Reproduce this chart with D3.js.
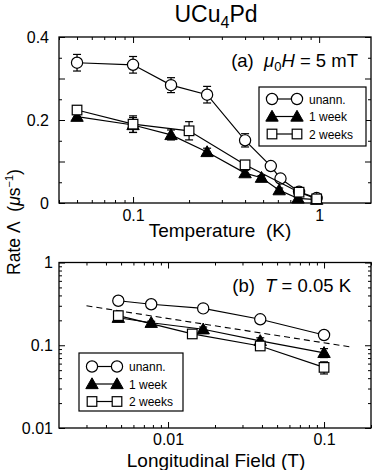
<!DOCTYPE html>
<html>
<head>
<meta charset="utf-8">
<script src="https://cdn.jsdelivr.net/npm/d3@7"></script>
<style>
  body { margin: 0; background: #fff; }
  svg { font-family: "Liberation Sans", Arial, sans-serif; }
  text { white-space: pre; }
</style>
</head>
<body>
<div class="canvas"></div>
<script>
// panel (a): rate vs temperature at 5 mT
const tempUnann = [0.05, 0.1, 0.16, 0.25, 0.4, 0.55, 0.62, 0.78, 0.97];
const rateUnann = [0.338, 0.333, 0.284, 0.261, 0.151, 0.089, 0.059, 0.027, 0.012];
const errUnann  = [0.02, 0.02, 0.018, 0.02, 0.016, 0.008, 0.006, 0.005, 0.004];

const temp1wk = [0.05, 0.1, 0.16, 0.25, 0.4, 0.49, 0.61, 0.77, 0.97];
const rate1wk = [0.208, 0.188, 0.164, 0.123, 0.072, 0.061, 0.031, 0.011, 0.008];
const err1wk  = [0.006, 0.018, 0.012, 0.009, 0.007, 0.005, 0.005, 0.004, 0.004];

const temp2wk = [0.05, 0.1, 0.2, 0.4, 0.78, 0.97];
const rate2wk = [0.224, 0.19, 0.174, 0.092, 0.026, 0.01];
const err2wk  = [0.01, 0.02, 0.022, 0.01, 0.006, 0.004];

// panel (b): rate vs longitudinal field at 0.05 K
const fieldUnann = [0.0048, 0.0078, 0.0168, 0.039, 0.1];
const lfUnann    = [0.345, 0.313, 0.279, 0.206, 0.133];
const lfErrUnann = [0.01, 0.008, 0.008, 0.008, 0.008];

const field1wk = [0.0048, 0.0078, 0.0168, 0.039, 0.1];
const lf1wk    = [0.215, 0.187, 0.156, 0.113, 0.081];
const lfErr1wk = [0.008, 0.008, 0.01, 0.01, 0.01];

const field2wk = [0.0048, 0.0143, 0.039, 0.1];
const lf2wk    = [0.228, 0.137, 0.098, 0.054];
const lfErr2wk = [0.01, 0.006, 0.006, 0.009];

// dashed power-law guide
const fitField = [0.003, 0.15];
const fitRate  = [0.30, 0.095];

const seriesNames = ['unann.', '1 week', '2 weeks'];

// ticks
const tempMajor = [0.1, 1];
const tempMinor = [0.04, 0.05, 0.06, 0.07, 0.08, 0.09, 0.2, 0.3, 0.4, 0.5, 0.6, 0.7, 0.8, 0.9];
const rateMajor = [0, 0.1, 0.2, 0.3, 0.4];
const rateMinor = [0.05, 0.15, 0.25, 0.35];
const rateLabels = [0, 0.2, 0.4];
const fieldMajor = [0.01, 0.1];
const fieldMinor = [0.003, 0.004, 0.005, 0.006, 0.007, 0.008, 0.009, 0.02, 0.03, 0.04, 0.05, 0.06, 0.07, 0.08, 0.09, 0.2];
const lfMajor = [0.01, 0.1, 1];
const lfMinor = [0.02, 0.03, 0.04, 0.05, 0.06, 0.07, 0.08, 0.09, 0.2, 0.3, 0.4, 0.5, 0.6, 0.7, 0.8, 0.9];

const svg = d3.select('.canvas')
  .append('svg')
    .attr('width', 374)
    .attr('height', 470);

const left = 59, right = 371;
const topA = 37, bottomA = 203;
const topB = 262.5, bottomB = 428;

// scales
const xA = d3.scaleLog().domain([0.04, 1.9]).range([left, right]);
const yA = d3.scaleLinear().domain([0, 0.4]).range([bottomA, topA]);
const xB = d3.scaleLog().domain([0.002, 0.2]).range([left, right]);
const yB = d3.scaleLog().domain([0.01, 1]).range([bottomB, topB]);

const fmt = d => String(d);

function drawFrame(x, y, top, bottom, xMajor, xMinor, yMajor, yMinor, yLabelVals, xPad, yPad) {
  const g = svg.append('g');
  const w = right - left, h = bottom - top;

  // bottom axis
  g.append('g').attr('transform', `translate(0, ${bottom})`)
    .call(d3.axisBottom(x).tickValues(xMinor).tickSizeInner(-3).tickSizeOuter(0).tickFormat(''));
  g.append('g').attr('transform', `translate(0, ${bottom})`)
    .call(d3.axisBottom(x).tickValues(xMajor).tickSizeInner(-6).tickSizeOuter(0).tickPadding(xPad).tickFormat(fmt))
    .selectAll('text').attr('font-size', 16);
  // top mirror
  g.append('g').attr('transform', `translate(0, ${top})`)
    .call(d3.axisTop(x).tickValues(xMinor).tickSizeInner(-3).tickSizeOuter(0).tickFormat(''));
  g.append('g').attr('transform', `translate(0, ${top})`)
    .call(d3.axisTop(x).tickValues(xMajor).tickSizeInner(-6).tickSizeOuter(0).tickFormat(''));

  // left axis
  g.append('g').attr('transform', `translate(${left}, 0)`)
    .call(d3.axisLeft(y).tickValues(yMinor).tickSizeInner(-3).tickSizeOuter(0).tickFormat(''));
  g.append('g').attr('transform', `translate(${left}, 0)`)
    .call(d3.axisLeft(y).tickValues(yMajor).tickSizeInner(-6).tickSizeOuter(0).tickPadding(yPad)
      .tickFormat(d => yLabelVals.includes(d) ? fmt(d) : ''))
    .selectAll('text').attr('font-size', 16);
  // right mirror
  g.append('g').attr('transform', `translate(${right}, 0)`)
    .call(d3.axisRight(y).tickValues(yMinor).tickSizeInner(-3).tickSizeOuter(0).tickFormat(''));
  g.append('g').attr('transform', `translate(${right}, 0)`)
    .call(d3.axisRight(y).tickValues(yMajor).tickSizeInner(-6).tickSizeOuter(0).tickFormat(''));

  g.selectAll('.domain').remove();
  g.selectAll('line').attr('stroke', '#000').attr('stroke-width', 1);
  g.selectAll('text').attr('fill', '#000').attr('font-family', '"Liberation Sans", Arial, sans-serif');

  g.append('rect')
    .attr('x', left).attr('y', top)
    .attr('width', w).attr('height', h)
    .attr('fill', 'none').attr('stroke', '#000').attr('stroke-width', 1.3);
}

drawFrame(xA, yA, topA, bottomA, tempMajor, tempMinor, rateMajor, rateMinor, rateLabels, 7, 10);
drawFrame(xB, yB, topB, bottomB, fieldMajor, fieldMinor, lfMajor, lfMinor, lfMajor, 6, 6);

// marker drawing
function marker(g, kind, cx, cy) {
  if (kind === 'circle') {
    g.append('circle').attr('cx', cx).attr('cy', cy).attr('r', 5.6)
      .attr('fill', '#fff').attr('stroke', '#000').attr('stroke-width', 1.2);
  } else if (kind === 'triangle') {
    const s = 6.2;
    g.append('path')
      .attr('d', `M${cx},${cy - s} L${cx + s},${cy + s * 0.75} L${cx - s},${cy + s * 0.75} Z`)
      .attr('fill', '#000').attr('stroke', '#000').attr('stroke-width', 1);
  } else {
    const s = 4.8;
    g.append('rect').attr('x', cx - s).attr('y', cy - s).attr('width', 2 * s).attr('height', 2 * s)
      .attr('fill', '#fff').attr('stroke', '#000').attr('stroke-width', 1.2);
  }
}

function drawSeries(x, y, xs, ys, errs, kind) {
  const data = xs.map((v, i) => ({x: v, y: ys[i], e: errs[i]}));
  const g = svg.append('g');
  g.append('path')
    .datum(data)
    .attr('fill', 'none')
    .attr('stroke', '#000')
    .attr('stroke-width', 1.2)
    .attr('d', d3.line().x(d => x(d.x)).y(d => y(d.y)));
  data.forEach(d => {
    const cx = x(d.x);
    const y1 = y(d.y + d.e), y2 = y(Math.max(d.y - d.e, 1e-4));
    g.append('line').attr('x1', cx).attr('x2', cx).attr('y1', y1).attr('y2', y2)
      .attr('stroke', '#000').attr('stroke-width', 1.2);
    [y1, y2].forEach(yy => {
      g.append('line').attr('x1', cx - 4).attr('x2', cx + 4).attr('y1', yy).attr('y2', yy)
        .attr('stroke', '#000').attr('stroke-width', 1.2);
    });
  });
  data.forEach(d => marker(g, kind, x(d.x), y(d.y)));
}

// dashed guide in (b)
svg.append('path')
  .datum(fitField.map((v, i) => ({x: v, y: fitRate[i]})))
  .attr('fill', 'none')
  .attr('stroke', '#000')
  .attr('stroke-width', 1.1)
  .attr('stroke-dasharray', '6,4')
  .attr('d', d3.line().x(d => xB(d.x)).y(d => yB(d.y)));

drawSeries(xA, yA, tempUnann, rateUnann, errUnann, 'circle');
drawSeries(xA, yA, temp1wk, rate1wk, err1wk, 'triangle');
drawSeries(xA, yA, temp2wk, rate2wk, err2wk, 'square');

drawSeries(xB, yB, fieldUnann, lfUnann, lfErrUnann, 'circle');
drawSeries(xB, yB, field1wk, lf1wk, lfErr1wk, 'triangle');
drawSeries(xB, yB, field2wk, lf2wk, lfErr2wk, 'square');

// legends
const kinds = ['circle', 'triangle', 'square'];
function drawLegend(bx, by, bw, bh, rowY0, rowGap) {
  const g = svg.append('g');
  g.append('rect').attr('x', bx).attr('y', by).attr('width', bw).attr('height', bh)
    .attr('fill', '#fff').attr('stroke', '#000').attr('stroke-width', 1.2);
  seriesNames.forEach((name, i) => {
    const yy = rowY0 + i * rowGap;
    const x1 = bx + 13, x2 = bx + 38;
    g.append('line').attr('x1', x1).attr('x2', x2).attr('y1', yy).attr('y2', yy)
      .attr('stroke', '#000').attr('stroke-width', 1.2);
    marker(g, kinds[i], x1, yy);
    marker(g, kinds[i], x2, yy);
    g.append('text').attr('x', bx + 50).attr('y', yy + 4.5)
      .attr('font-size', 12).text(name);
  });
}
drawLegend(259, 87, 107, 59, 99, 17.5);
drawLegend(79, 353, 104, 58, 366.5, 17.5);

// title
const title = svg.append('text')
  .attr('x', 216).attr('y', 22)
  .attr('text-anchor', 'middle')
  .attr('font-size', 23);
title.append('tspan').text('UCu');
title.append('tspan').attr('font-size', 16).attr('dy', 6).text('4');
title.append('tspan').attr('dy', -6).text('Pd');

// panel annotations
const annA = svg.append('text')
  .attr('x', 358).attr('y', 67)
  .attr('text-anchor', 'end')
  .attr('font-size', 18.5);
annA.append('tspan').text('(a)\u00a0\u00a0');
annA.append('tspan').attr('font-style', 'italic').text('\u03bc');
annA.append('tspan').attr('font-size', 13).attr('dy', 4).text('0');
annA.append('tspan').attr('dy', -4).attr('font-style', 'italic').text('H');
annA.append('tspan').text(' = 5 mT');

const annB = svg.append('text')
  .attr('x', 351).attr('y', 292)
  .attr('text-anchor', 'end')
  .attr('font-size', 18.5);
annB.append('tspan').text('(b)\u00a0\u00a0');
annB.append('tspan').attr('font-style', 'italic').text('T');
annB.append('tspan').text(' = 0.05 K');

// axis titles
svg.append('text')
  .attr('x', 220).attr('y', 237)
  .attr('text-anchor', 'middle')
  .attr('font-size', 19)
  .text('Temperature\u00a0\u00a0(K)');

svg.append('text')
  .attr('x', 216).attr('y', 467)
  .attr('text-anchor', 'middle')
  .attr('font-size', 19)
  .text('Longitudinal Field (T)');

const yLab = svg.append('text')
  .attr('transform', 'translate(20, 222) rotate(-90)')
  .attr('text-anchor', 'middle')
  .attr('font-size', 17.5);
yLab.append('tspan').text('Rate \u039b\u00a0\u00a0(');
yLab.append('tspan').attr('font-style', 'italic').text('\u03bc');
yLab.append('tspan').text('s');
yLab.append('tspan').attr('font-size', 11).attr('dy', -7).text('\u22121');
yLab.append('tspan').attr('dy', 7).text(')');
</script>
</body>
</html>
